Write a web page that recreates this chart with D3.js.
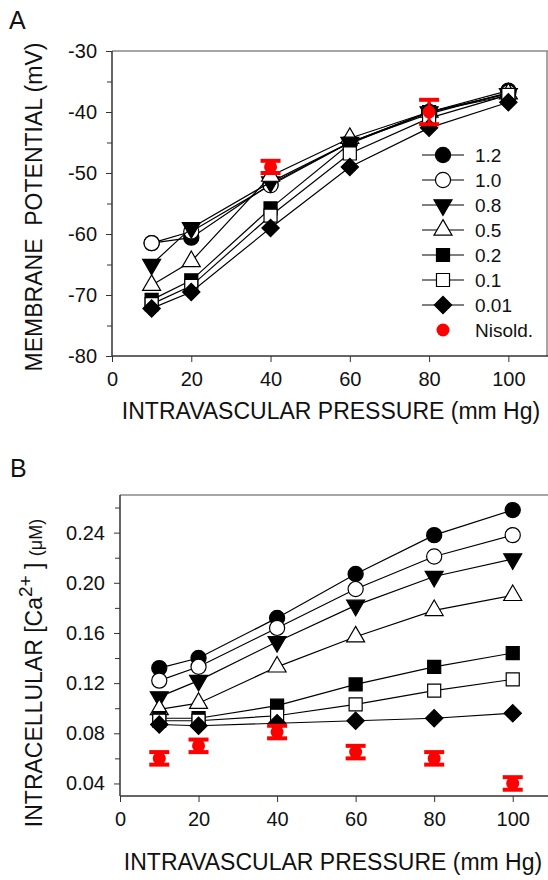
<!DOCTYPE html>
<html>
<head>
<meta charset="utf-8">
<script src="https://cdn.jsdelivr.net/npm/d3@7"></script>
<style>
  body { margin: 0; background: #fff; }
  text { font-family: "Liberation Sans", Arial, sans-serif; fill: #111; }
</style>
</head>
<body>
<svg id="fig"></svg>
<script>
// pressure steps (mm Hg)
const pressure = [10, 20, 40, 60, 80, 100];
const concLabels = ["1.2", "1.0", "0.8", "0.5", "0.2", "0.1", "0.01"];

// panel A: membrane potential (mV)
const vm_1_2  = [-61.5, -60.6, -51.8, -45.0, -40.0, -36.5];
const vm_1_0  = [-61.5, -59.6, -52.0, -45.0, -40.3, -36.8];
const vm_0_8  = [-65.0, -59.0, -51.5, -45.0, -40.0, -37.0];
const vm_0_5  = [-68.4, -64.5, -50.5, -44.3, -40.0, -37.0];
const vm_0_2  = [-70.8, -67.6, -55.8, -45.2, -40.0, -37.3];
const vm_0_1  = [-71.5, -68.5, -57.0, -46.8, -41.0, -37.2];
const vm_0_01 = [-72.2, -69.5, -59.0, -49.0, -42.6, -38.4];
const nisPressureA = [40, 80];
const nisVmA = [-49, -40];
const nisVmErrA = [1, 2];

// panel B: intracellular Ca2+ (uM)
const ca_1_2  = [0.132, 0.140, 0.172, 0.207, 0.238, 0.258];
const ca_1_0  = [0.122, 0.133, 0.164, 0.195, 0.221, 0.238];
const ca_0_8  = [0.109, 0.122, 0.153, 0.182, 0.205, 0.219];
const ca_0_5  = [0.099, 0.104, 0.133, 0.157, 0.178, 0.190];
const ca_0_2  = [0.092, 0.092, 0.102, 0.119, 0.133, 0.144];
const ca_0_1  = [0.090, 0.090, 0.094, 0.103, 0.114, 0.123];
const ca_0_01 = [0.087, 0.086, 0.088, 0.090, 0.092, 0.096];
const nisCaB = [0.060, 0.070, 0.081, 0.065, 0.060, 0.040];
const nisCaErrB = [0.005, 0.005, 0.005, 0.005, 0.005, 0.005];

const vmSeries = [vm_1_2, vm_1_0, vm_0_8, vm_0_5, vm_0_2, vm_0_1, vm_0_01];
const caSeries = [ca_1_2, ca_1_0, ca_0_8, ca_0_5, ca_0_2, ca_0_1, ca_0_01];

const markers = [
  { type: d3.symbolCircle,   size: 180, fill: "#000", rot: 0 },
  { type: d3.symbolCircle,   size: 180, fill: "#fff", rot: 0 },
  { type: d3.symbolTriangle, size: 140, fill: "#000", rot: 180 },
  { type: d3.symbolTriangle, size: 140, fill: "#fff", rot: 0 },
  { type: d3.symbolSquare,   size: 170, fill: "#000", rot: 0 },
  { type: d3.symbolSquare,   size: 170, fill: "#fff", rot: 0 },
  { type: d3.symbolSquare,   size: 150, fill: "#000", rot: 45 }
];
const RED = "#f00";

const W = 548, H = 880;
const svg = d3.select("#fig").attr("width", W).attr("height", H);
svg.append("rect").attr("width", W).attr("height", H).attr("fill", "#fff");

function drawSymbol(g, m, cx, cy) {
  g.append("path")
    .attr("d", d3.symbol().type(m.type).size(m.size)())
    .attr("transform", `translate(${cx},${cy}) rotate(${m.rot})`)
    .attr("fill", m.fill)
    .attr("stroke", "#000")
    .attr("stroke-width", 1.2);
}

function drawErr(g, cx, cy, ylo, yhi) {
  g.append("line").attr("x1", cx).attr("x2", cx).attr("y1", ylo).attr("y2", yhi)
    .attr("stroke", RED).attr("stroke-width", 3);
  [ylo, yhi].forEach(yy => {
    g.append("line").attr("x1", cx - 10).attr("x2", cx + 10).attr("y1", yy).attr("y2", yy)
      .attr("stroke", RED).attr("stroke-width", 4);
  });
  g.append("circle").attr("cx", cx).attr("cy", cy).attr("r", 6.5).attr("fill", RED);
}

function panel(o) {
  const g = svg.append("g");
  const x = d3.scaleLinear().domain([0, 110]).range([o.left, o.right]);
  const y = d3.scaleLinear().domain(o.yDomain).range([o.bottom, o.top]);

  // top / right frame
  g.append("line").attr("x1", o.left).attr("x2", o.right).attr("y1", o.top).attr("y2", o.top)
    .attr("stroke", "#888").attr("stroke-width", 1.5);
  g.append("line").attr("x1", o.right - 1).attr("x2", o.right - 1).attr("y1", o.top).attr("y2", o.bottom)
    .attr("stroke", "#888").attr("stroke-width", 1.5);

  // minor y ticks
  g.append("g").attr("transform", `translate(${o.left},0)`)
    .call(d3.axisLeft(y).tickValues(o.yMinor).tickSize(5).tickFormat(""))
    .call(a => a.select(".domain").remove())
    .call(a => a.selectAll("line").attr("stroke", "#333"));

  const ya = g.append("g").attr("transform", `translate(${o.left},0)`)
    .call(d3.axisLeft(y).tickValues(o.yTicks).tickSize(6).tickPadding(9).tickFormat(o.yFmt));
  const xa = g.append("g").attr("transform", `translate(0,${o.bottom})`)
    .call(d3.axisBottom(x).tickValues([0, 20, 40, 60, 80, 100]).tickSize(6).tickPadding(10).tickFormat(d => String(d)));
  [ya, xa].forEach(a => {
    a.select(".domain").attr("stroke", "#333").attr("stroke-width", 1.5);
    a.selectAll("line").attr("stroke", "#333");
    a.selectAll("text").attr("font-size", 20).attr("fill", "#111")
      .attr("font-family", '"Liberation Sans", Arial, sans-serif');
  });
  // extend the axis lines to the corners without the d3 end caps
  ya.select(".domain").attr("d", `M0,${o.top}V${o.bottom}`);
  xa.select(".domain").attr("d", `M${o.left},0H${o.right}`);

  // series
  const line = d3.line().x((d, i) => x(pressure[i])).y(d => y(d));
  o.series.forEach((vals, si) => {
    g.append("path").datum(vals).attr("d", line)
      .attr("fill", "none").attr("stroke", "#000").attr("stroke-width", 1.2);
    vals.forEach((v, i) => drawSymbol(g, markers[si], x(pressure[i]), y(v)));
  });

  // Nisoldipine
  o.nisX.forEach((p, i) => {
    const v = o.nisY[i], e = o.nisE[i];
    drawErr(g, x(p), y(v), y(v - e), y(v + e));
  });

  // x title
  g.append("text").attr("x", o.xTitleX).attr("y", o.xTitleY).attr("text-anchor", "middle")
    .attr("font-size", 23).text("INTRAVASCULAR PRESSURE (mm Hg)");
  // panel letter
  g.append("text").attr("x", o.letterX).attr("y", o.letterY).attr("font-size", 25).text(o.letter);
  return { g, x, y };
}

const A = panel({
  left: 112, right: 548, top: 51, bottom: 356,
  yDomain: [-80, -30], yTicks: [-80, -70, -60, -50, -40, -30],
  yMinor: [-75, -65, -55, -45, -35], yFmt: d => String(d),
  series: vmSeries, nisX: nisPressureA, nisY: nisVmA, nisE: nisVmErrA,
  xTitleX: 331, xTitleY: 419, letter: "A", letterX: 9, letterY: 29
});

svg.append("text").attr("transform", "translate(42,207) rotate(-90)")
  .attr("text-anchor", "middle").attr("font-size", 23)
  .text("MEMBRANE\u00a0\u00a0POTENTIAL (mV)");

// legend (panel A)
const lg = svg.append("g");
concLabels.forEach((lab, i) => {
  const yy = 155 + i * 25;
  lg.append("line").attr("x1", 422).attr("x2", 464).attr("y1", yy).attr("y2", yy)
    .attr("stroke", "#000").attr("stroke-width", 1.2);
  drawSymbol(lg, markers[i], 443, yy);
  lg.append("text").attr("x", 475).attr("y", yy).attr("dy", "0.36em")
    .attr("font-size", 19).text(lab);
});
lg.append("circle").attr("cx", 443).attr("cy", 155 + 7 * 25).attr("r", 6.5).attr("fill", RED);
lg.append("text").attr("x", 475).attr("y", 155 + 7 * 25).attr("dy", "0.36em")
  .attr("font-size", 19).text("Nisold.");

const B = panel({
  left: 120, right: 552, top: 495, bottom: 796,
  yDomain: [0.03, 0.27], yTicks: [0.04, 0.08, 0.12, 0.16, 0.20, 0.24],
  yMinor: [0.06, 0.10, 0.14, 0.18, 0.22, 0.26], yFmt: d3.format(".2f"),
  series: caSeries, nisX: pressure, nisY: nisCaB, nisE: nisCaErrB,
  xTitleX: 333, xTitleY: 870, letter: "B", letterX: 10, letterY: 477
});

const bt = svg.append("text").attr("transform", "translate(42,673) rotate(-90)")
  .attr("text-anchor", "middle").attr("font-size", 23);
bt.append("tspan").text("INTRACELLULAR [Ca");
bt.append("tspan").attr("font-size", 19).attr("dy", -10).text("2+");
bt.append("tspan").attr("dy", 10).text(" ] ");
bt.append("tspan").attr("font-size", 18).text("(\u03bcM)");
</script>
</body>
</html>
